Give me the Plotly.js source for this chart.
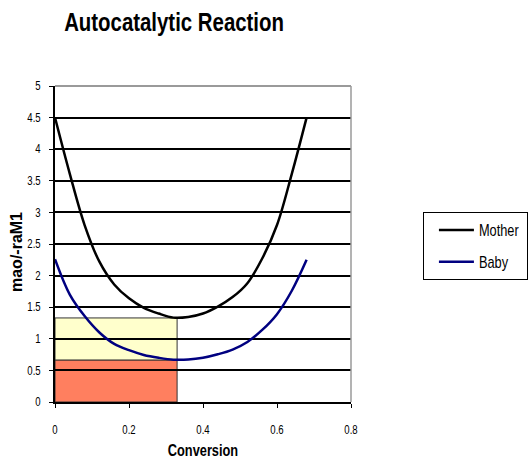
<!DOCTYPE html>
<html>
<head>
<meta charset="utf-8">
<script src="https://cdn.plot.ly/plotly-3.0.1.min.js"></script>
<style>html,body{margin:0;padding:0;background:#fff;}#chart{width:529px;height:460px;}</style>
</head>
<body>
<div id="chart"></div>
<script>
// Data
const conversion = [0, 0.04, 0.08, 0.12, 0.16, 0.20, 0.24, 0.28, 0.32, 0.36, 0.40, 0.44, 0.48, 0.52, 0.56, 0.60, 0.64, 0.68];
const mother = [4.5, 3.61, 2.80, 2.22, 1.86, 1.64, 1.49, 1.40, 1.335, 1.345, 1.40, 1.51, 1.66, 1.88, 2.27, 2.80, 3.61, 4.5];
const baby = [2.26, 1.70, 1.36, 1.10, 0.92, 0.82, 0.745, 0.70, 0.67, 0.672, 0.70, 0.755, 0.83, 0.95, 1.14, 1.39, 1.76, 2.25];
// Shaded areas: width in conversion and heights (mao/-raM1)
const areaX = [0, 0.33];
const areaLevels = [0, 0.665, 1.33];
const areaColors = ['#FF7F5F', '#FFFFCC'];
const seriesNames = ['Mother', 'Baby'];
const seriesColors = ['#000000', '#000080'];
const xTicks = [0, 0.2, 0.4, 0.6, 0.8];
const yTicks = [0, 0.5, 1, 1.5, 2, 2.5, 3, 3.5, 4, 4.5, 5];

const FONT = '"Liberation Sans", Arial, sans-serif';
const SQUEEZE = 0.8; // reference text is horizontally condensed

const traces = [mother, baby].map((ys, i) => ({
  x: conversion, y: ys, type: 'scatter', mode: 'lines', name: seriesNames[i],
  legendgroup: 'g' + i,
  line: {color: seriesColors[i], width: 2.5, shape: 'spline', smoothing: 1}
}));

const shapes = [];
for (let i = 0; i < 2; i++) {
  shapes.push({type: 'rect', xref: 'x', yref: 'y', x0: areaX[0], x1: areaX[1],
    y0: areaLevels[i], y1: areaLevels[i + 1], fillcolor: areaColors[i],
    line: {color: '#333333', width: 1}, layer: 'below'});
}
shapes.push({type: 'line', xref: 'paper', yref: 'paper', x0: 0, x1: 1, y0: 1, y1: 1, line: {color: '#9a9a9a', width: 2}, layer: 'above'});
shapes.push({type: 'line', xref: 'paper', yref: 'paper', x0: 1, x1: 1, y0: 0, y1: 1, line: {color: '#9a9a9a', width: 1.5}, layer: 'above'});

const layout = {
  width: 529, height: 460,
  margin: {l: 55, r: 178, t: 86, b: 58, autoexpand: false},
  paper_bgcolor: '#ffffff', plot_bgcolor: '#ffffff',
  font: {family: FONT, color: '#000', size: 12},
  title: {text: '<b>Autocatalytic Reaction</b>', font: {family: FONT, size: 25.5, color: '#000'},
    x: 0.329, xref: 'container', xanchor: 'center', y: 0.952, yref: 'container', yanchor: 'middle'},
  xaxis: {range: [0, 0.8], tickvals: xTicks, ticktext: xTicks.map(String), showgrid: false, zeroline: false,
    showline: true, linecolor: '#000', linewidth: 2, ticks: 'outside', ticklen: 4, tickcolor: '#000',
    ticklabelstandoff: 12, tickfont: {size: 12}, automargin: false,
    title: {text: '<b>Conversion</b>', font: {size: 16}, standoff: 8}, fixedrange: true},
  yaxis: {range: [0, 5], tickvals: yTicks, ticktext: yTicks.map(String), showgrid: true, gridcolor: '#000', gridwidth: 2,
    zeroline: false, showline: true, linecolor: '#000', linewidth: 2, ticks: 'outside', ticklen: 4, tickcolor: '#000',
    ticklabelstandoff: 6, tickfont: {size: 12}, automargin: false, fixedrange: true},
  annotations: [{text: '<b>mao/-raM1</b>', textangle: -90, xref: 'paper', yref: 'paper',
    x: -0.128, y: 0.475, xanchor: 'center', yanchor: 'middle', showarrow: false, font: {size: 16}}],
  showlegend: true,
  legend: {x: 1.243, xanchor: 'left', y: 0.601, yanchor: 'top', bordercolor: '#000', borderwidth: 1,
    bgcolor: '#fff', font: {size: 16}, tracegroupgap: 8, traceorder: 'grouped', itemwidth: 37},
  shapes: shapes
};

Plotly.newPlot('chart', traces, layout, {displayModeBar: false, staticPlot: true}).then(gd => {
  gd.querySelectorAll('svg text').forEach(el => {
    if (el.classList.contains('annotation-text')) return;
    const bb = el.getBBox();
    if (!bb.width) return;
    const anchor = el.getAttribute('text-anchor') || 'start';
    const ax = anchor === 'middle' ? bb.x + bb.width / 2 : (anchor === 'end' ? bb.x + bb.width : bb.x);
    const inLegend = !!el.closest('.legend');
    const t = el.getAttribute('transform') || '';
    el.setAttribute('transform', t + (inLegend ? ' translate(8,0)' : '') + ' translate(' + ax + ',0) scale(' + SQUEEZE + ',1) translate(' + (-ax) + ',0)');
  });
  gd.querySelectorAll('.legend g.legendlines path').forEach(p => p.setAttribute('d', 'M15,0h35'));
});
</script>
</body>
</html>
